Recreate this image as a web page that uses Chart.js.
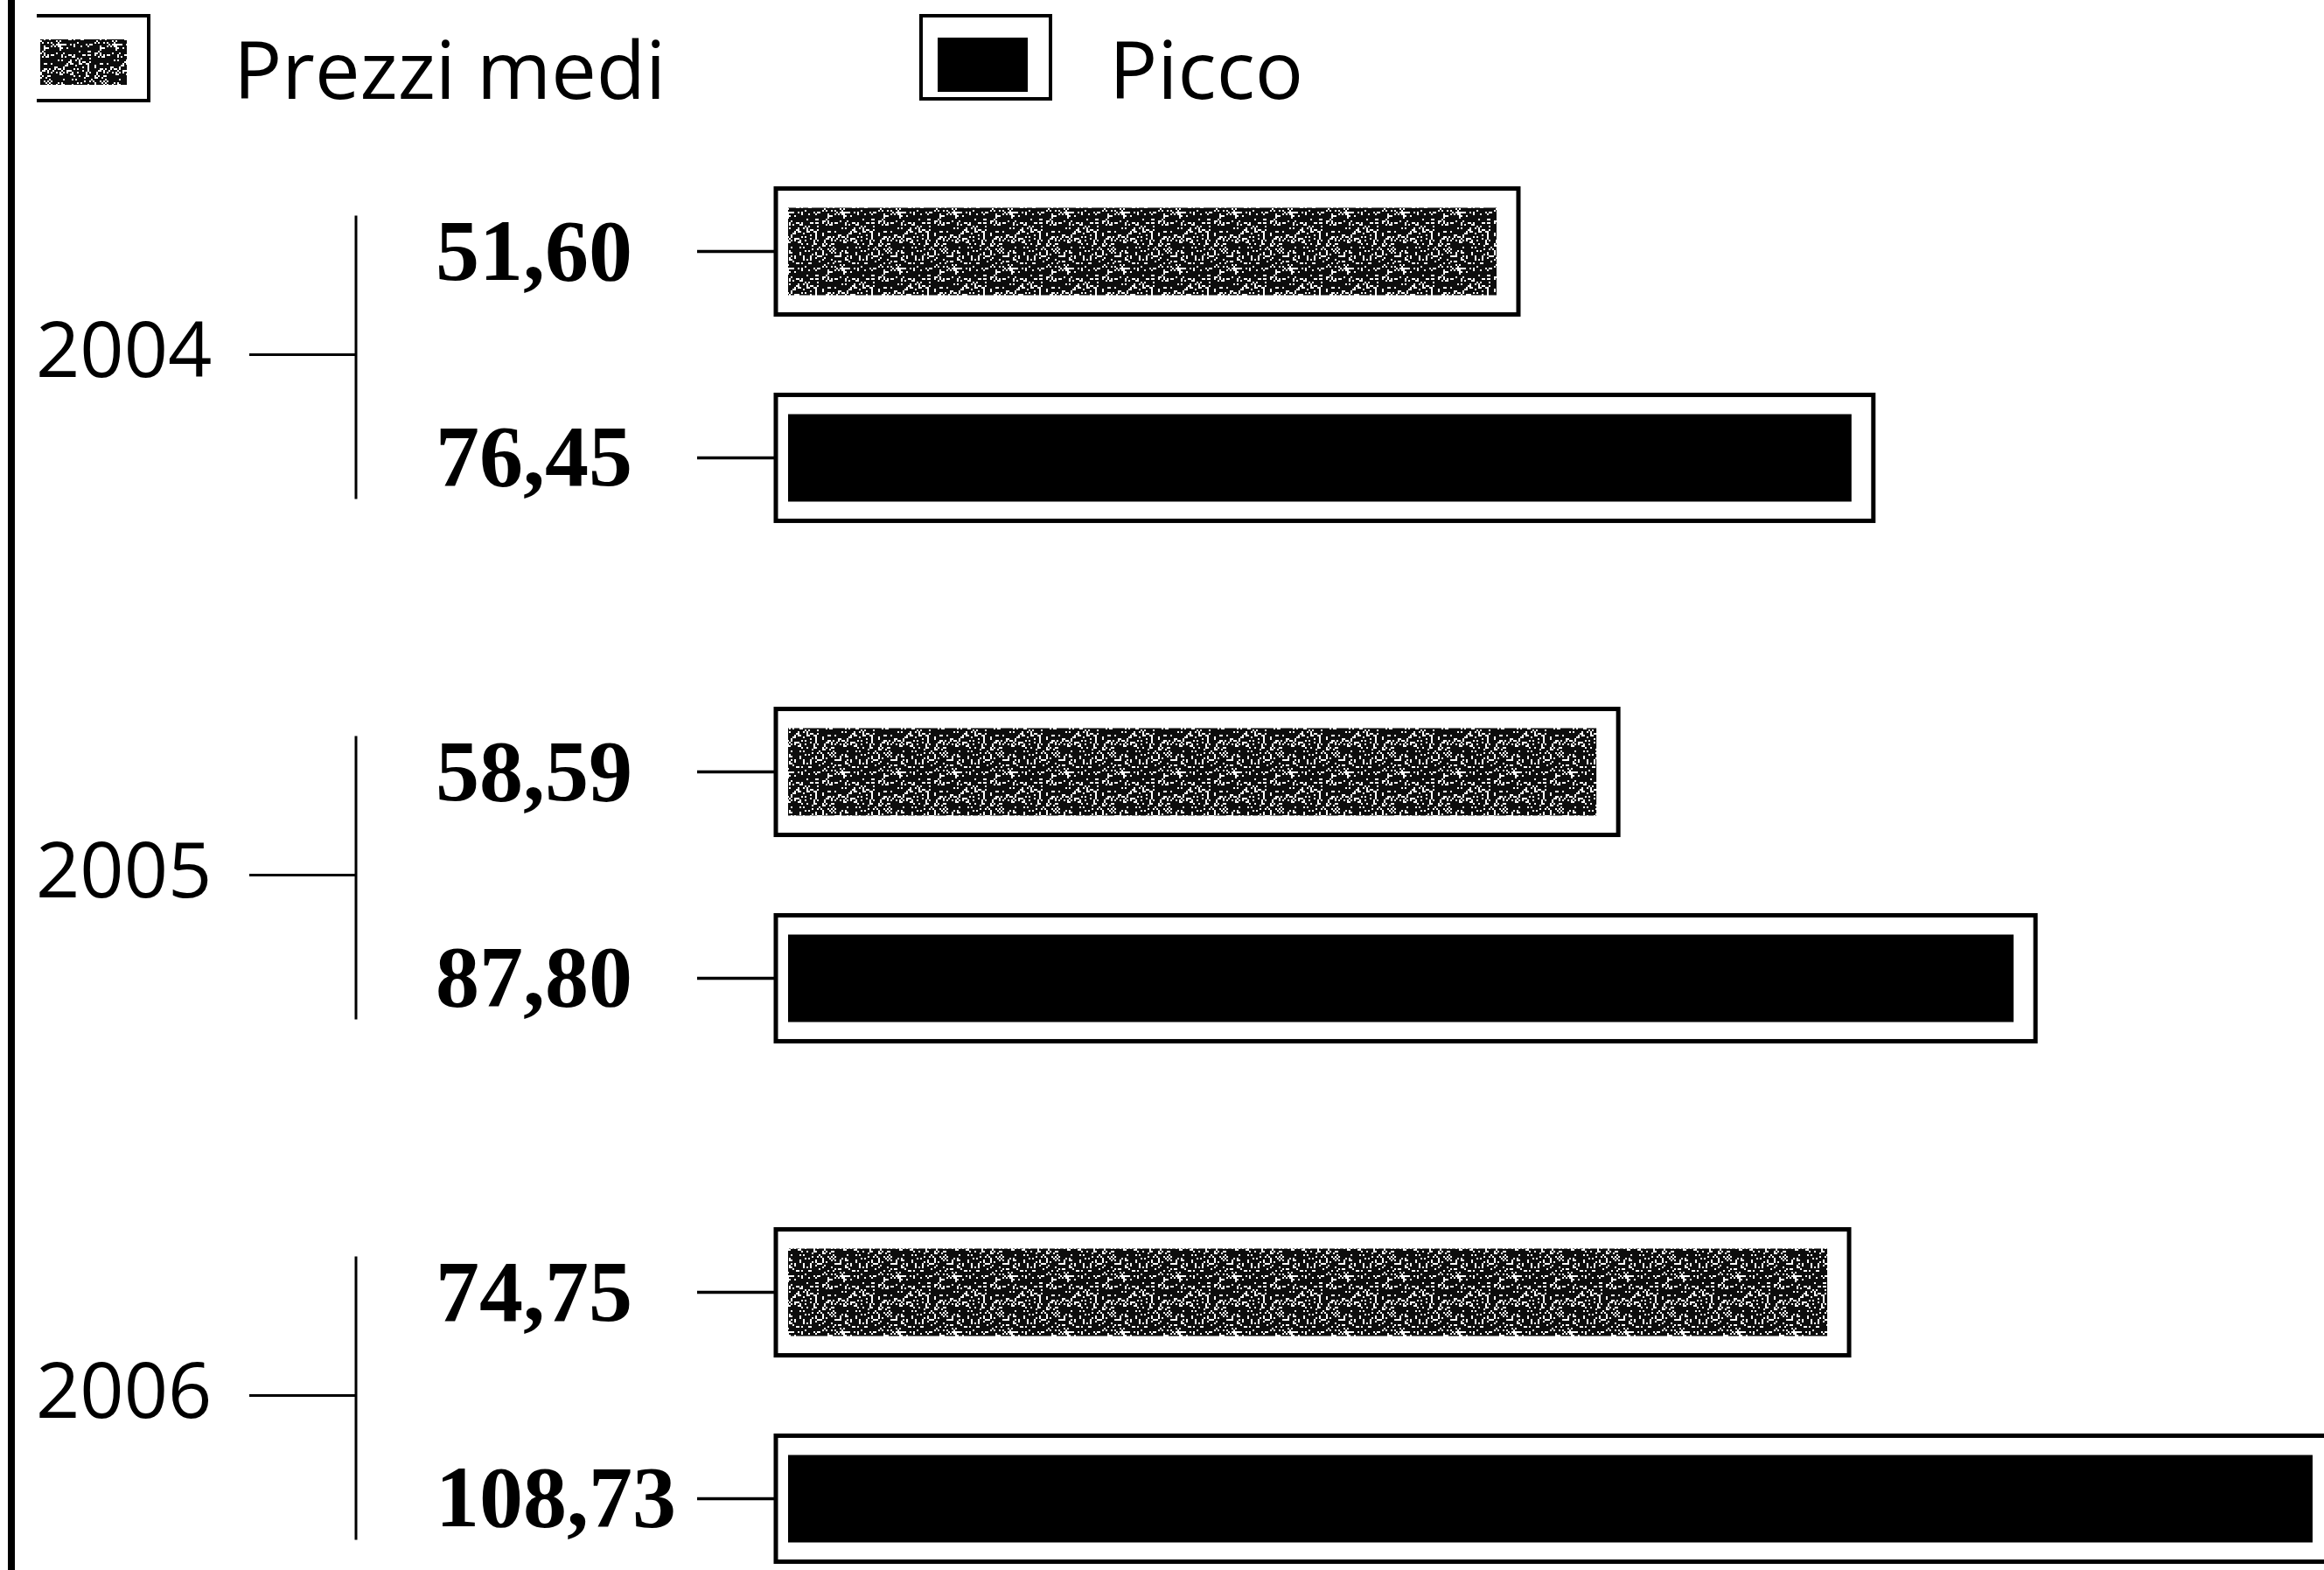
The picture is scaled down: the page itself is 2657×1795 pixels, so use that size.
<!DOCTYPE html>
<html>
<head>
<meta charset="utf-8">
<script src="https://cdn.jsdelivr.net/npm/chart.js@4.4.0/dist/chart.umd.min.js"></script>
<style>
html,body{margin:0;padding:0;background:#fff;}
#wrap{width:2657px;height:1795px;position:relative;}
</style>
</head>
<body>
<div id="wrap"><canvas id="c" width="2657" height="1795"></canvas></div>
<script>
// ---- data ----
const years = ['2004', '2005', '2006'];
const seriesNames = ['Prezzi medi', 'Picco'];
const prezziMedi = [51.60, 58.59, 74.75];
const picco = [76.45, 87.80, 108.73];

const canvas = document.getElementById('c');
const mainCtx = canvas.getContext('2d');

// deterministic speckled texture (style only)
function makeTexture() {
  const s = 64;
  const cv = document.createElement('canvas');
  cv.width = s; cv.height = s;
  const g = cv.getContext('2d');
  g.fillStyle = '#0d0d0d';
  g.fillRect(0, 0, s, s);
  g.fillStyle = '#ffffff';
  for (let y = 0; y < s; y += 2) {
    for (let x = 0; x < s; x += 2) {
      let h = Math.imul(x + 1, 374761393) ^ Math.imul(y + 7, 668265263);
      h = Math.imul(h ^ (h >>> 13), 1274126177);
      h = (h ^ (h >>> 16)) >>> 0;
      if (h % 100 < 20) g.fillRect(x, y, 2, 2);
    }
  }
  return mainCtx.createPattern(cv, 'repeat');
}
const speckle = makeTexture();
const seriesFills = [speckle, '#000000'];

function fmt(v) { return v.toFixed(2).replace('.', ','); }

function hline(ctx, x1, x2, y, w) {
  ctx.lineWidth = w;
  ctx.beginPath(); ctx.moveTo(x1, y); ctx.lineTo(x2, y); ctx.stroke();
}
function vline(ctx, x, y1, y2, w) {
  ctx.lineWidth = w;
  ctx.beginPath(); ctx.moveTo(x, y1); ctx.lineTo(x, y2); ctx.stroke();
}

const decor = {
  id: 'decor',
  beforeDraw(chart) {
    const ctx = chart.ctx;
    ctx.save();
    ctx.fillStyle = '#fff';
    ctx.fillRect(0, 0, chart.width, chart.height);
    // left frame line
    ctx.fillStyle = '#000';
    ctx.fillRect(9, 0, 8, chart.height);
    // legend
    const items = [
      { frame: [42, 18, 128, 97], open: true, fill: [46, 45, 99, 52], tx: 267 },
      { frame: [1053, 18, 148, 95], open: false, fill: [1072, 43, 103, 62], tx: 1268 }
    ];
    ctx.strokeStyle = '#000';
    items.forEach((it, d) => {
      const [fx, fy, fw, fh] = it.frame;
      ctx.lineWidth = 4;
      if (it.open) {
        ctx.beginPath();
        ctx.moveTo(fx, fy); ctx.lineTo(fx + fw, fy); ctx.lineTo(fx + fw, fy + fh); ctx.lineTo(fx, fy + fh);
        ctx.stroke();
      } else {
        ctx.strokeRect(fx, fy, fw, fh);
      }
      ctx.fillStyle = chart.data.datasets[d].backgroundColor;
      ctx.fillRect(...it.fill);
      ctx.fillStyle = '#000';
      ctx.font = '92px "Open Sans"';
      ctx.textAlign = 'left';
      ctx.textBaseline = 'alphabetic';
      ctx.fillText(chart.data.datasets[d].label, it.tx, 113);
    });
    ctx.restore();
  },
  afterDatasetsDraw(chart) {
    const ctx = chart.ctx;
    const ys = chart.scales.y;
    const m0 = chart.getDatasetMeta(0);
    const m1 = chart.getDatasetMeta(1);
    ctx.save();
    ctx.strokeStyle = '#000';
    ctx.fillStyle = '#000';
    // brackets for each year
    for (let i = 0; i < chart.data.labels.length; i++) {
      const gy = ys.getPixelForValue(i);
      const a = m0.data[i], b = m1.data[i];
      hline(ctx, 285, 407, gy, 3);
      vline(ctx, 407, a.y - 41, b.y + 47, 3);
    }
    // boxes, connectors, value labels
    chart.data.datasets.forEach((ds, d) => {
      const meta = chart.getDatasetMeta(d);
      meta.data.forEach((el, i) => {
        const left = el.base - 14;
        const right = el.x + 25;
        const top = el.y - 72;
        const bot = el.y + 72;
        ctx.lineWidth = 5;
        ctx.strokeRect(left, top, right - left, bot - top);
        hline(ctx, 797, left, el.y, 3.5);
        ctx.font = 'bold 100px "Liberation Serif"';
        ctx.textAlign = 'left';
        ctx.textBaseline = 'alphabetic';
        ctx.fillText(fmt(ds.data[i]), 498, el.y + 32);
      });
    });
    ctx.restore();
  }
};

new Chart(canvas, {
  type: 'bar',
  data: {
    labels: years,
    datasets: [
      { label: seriesNames[0], data: prezziMedi, backgroundColor: seriesFills[0], clip: false, base: 2 },
      { label: seriesNames[1], data: picco, backgroundColor: seriesFills[1], clip: false, base: 2 }
    ]
  },
  options: {
    indexAxis: 'y',
    responsive: false,
    animation: false,
    devicePixelRatio: 1,
    categoryPercentage: 0.793,
    barPercentage: 0.424,
    borderWidth: 0,
    layout: { padding: { left: 41, top: 405.5, bottom: 199.5, right: 0 } },
    plugins: { legend: { display: false }, tooltip: { enabled: false } },
    scales: {
      x: { type: 'linear', display: false, min: 2, max: 109.53 },
      y: {
        type: 'category',
        offset: false,
        grid: { display: false, drawTicks: false },
        border: { display: false },
        ticks: {
          crossAlign: 'far',
          padding: 0,
          color: '#000',
          font: { family: 'Open Sans', size: 88 }
        },
        afterFit(s) { s.width = 860; }
      }
    }
  },
  plugins: [decor]
});
</script>
</body>
</html>
